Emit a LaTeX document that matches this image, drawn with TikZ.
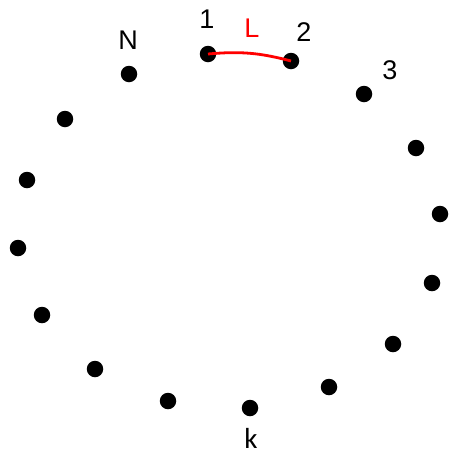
\documentclass[tikz,border=0pt]{standalone}
\usepackage{fontspec}
\setmainfont{Liberation Sans}
\newfontfamily\kfont{Carlito}

\begin{document}
\begin{tikzpicture}[
  x=1pt, y=-1pt,
  pt/.style={circle, fill=black, minimum size=16.5pt, inner sep=0pt},
  lbl/.style={font=\fontsize{27}{30}\selectfont, inner sep=0pt},
  arc/.style={red, line width=2.8pt}
]
  \useasboundingbox (0,0) rectangle (450,456);

  \node[pt] (d1)  at (208, 54) {};
  \node[pt] (d2)  at (291, 61) {};
  \node[pt] (d3)  at (364, 94) {};
  \node[pt] (d4)  at (416,148) {};
  \node[pt] (d5)  at (440,214) {};
  \node[pt] (d6)  at (432,283) {};
  \node[pt] (d7)  at (393,344) {};
  \node[pt] (d8)  at (329,387) {};
  \node[pt] (dk)  at (250,408) {};
  \node[pt] (d10) at (168,401) {};
  \node[pt] (d11) at ( 95,369) {};
  \node[pt] (d12) at ( 42,315) {};
  \node[pt] (d13) at ( 18,248) {};
  \node[pt] (d14) at ( 27,180) {};
  \node[pt] (d15) at ( 65,119) {};
  \node[pt] (dN)  at (129, 74) {};

  \node[lbl] (l1) at (207, 19) {1};
  \node[lbl] (l2) at (304, 32) {2};
  \node[lbl] (l3) at (390, 70) {3};
  \node[lbl] (lN) at (128, 40) {N};
  \node[lbl, font=\kfont\fontsize{29}{32}\selectfont] (lk) at (251,438) {k};
  \node[lbl, red] (lL) at (252, 28) {L};

  \draw[arc] (d1.center) to[bend left=10] (d2.center);
\end{tikzpicture}
\end{document}
